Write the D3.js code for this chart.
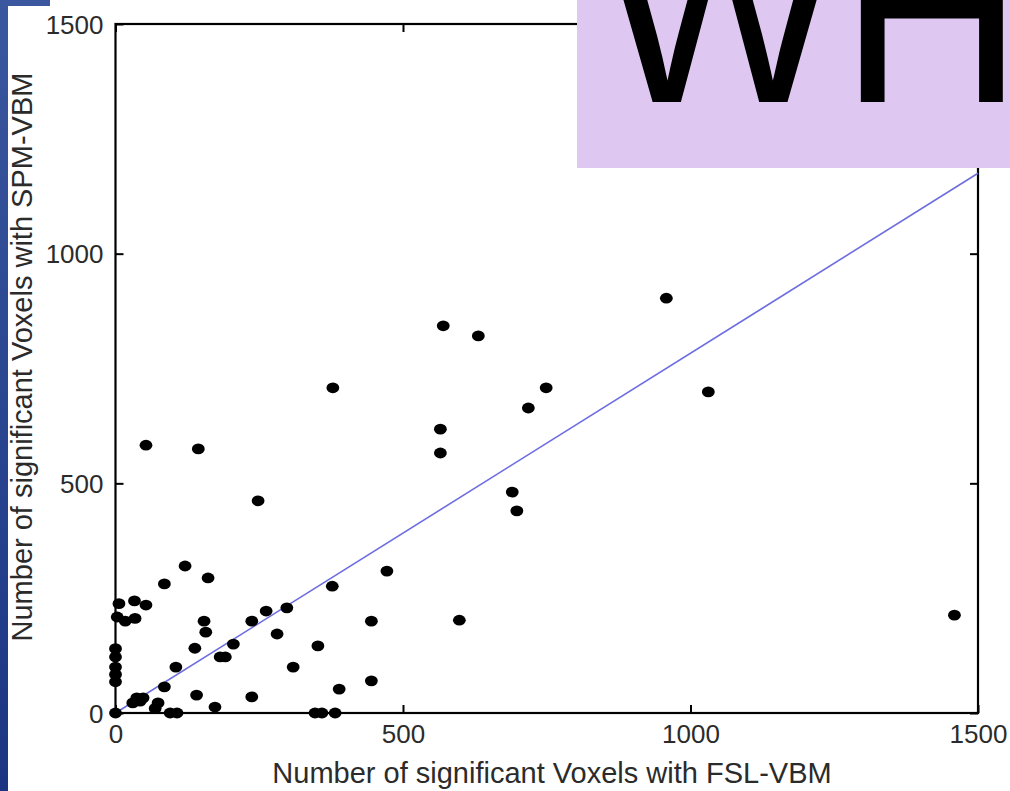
<!DOCTYPE html>
<html>
<head>
<meta charset="utf-8">
<script src="https://cdn.jsdelivr.net/npm/d3@7/dist/d3.min.js"></script>
<style>
  html, body { margin: 0; padding: 0; background: #fff; }
  svg { display: block; }
  text { font-family: "Liberation Sans", Arial, Helvetica, sans-serif; }
</style>
</head>
<body>
<svg id="chart" width="1010" height="791"></svg>
<script>
// ---- data ----
const fslVoxels = [958, 1031, 570, 631, 378, 749, 718, 565, 565, 690, 698, 53, 144, 248, 1459, 472, 377, 598, 445, 445, 389, 352, 309, 347, 359, 382,
  121, 161, 85, 33, 53, 6, 3, 17, 34, 154, 157, 237, 262, 298, 281, 138, 205, 182, 191, 105, 85, 141, 237, 173, 74, 69, 95, 107,
  30, 37, 48, 43, 0, 0, 0, 0, 0, 0];
const spmVoxels = [903, 699, 843, 821, 708, 708, 664, 618, 566, 481, 440, 583, 575, 462, 213, 309, 276, 202, 200, 70, 52, 146, 100, 0, 0, 0,
  320, 294, 281, 244, 235, 238, 209, 200, 206, 200, 176, 200, 222, 229, 172, 141, 150, 122, 122, 100, 57, 39, 35, 13, 22, 10, 0, 0,
  22, 33, 33, 26, 140, 122, 100, 84, 68, 0];
const fitX = [0, 1500];
const fitY = [0, 1175];
const xTicks = [0, 500, 1000, 1500];
const yTicks = [0, 500, 1000, 1500];
const xTitle = "Number of significant Voxels with FSL-VBM";
const yTitle = "Number of significant Voxels with SPM-VBM";
const bannerLetters = ["W", "H"];

// ---- layout ----
const svg = d3.select("#chart");
const L = 115.5, R = 978, T = 24, B = 713;
const x = d3.scaleLinear().domain([0, 1500]).range([L, R]);
const y = d3.scaleLinear().domain([0, 1500]).range([B, T]);

svg.append("rect").attr("width", 1010).attr("height", 791).attr("fill", "#fff");

// left blue strip
const defs = svg.append("defs");
const grad = defs.append("linearGradient").attr("id", "blueStrip").attr("x1", 0).attr("y1", 0).attr("x2", 0).attr("y2", 1);
grad.append("stop").attr("offset", "0%").attr("stop-color", "#3a579f");
grad.append("stop").attr("offset", "100%").attr("stop-color", "#1b3583");
svg.append("rect").attr("x", 0).attr("y", 0).attr("width", 8).attr("height", 791).attr("fill", "url(#blueStrip)");
svg.append("rect").attr("x", 0).attr("y", 0).attr("width", 50).attr("height", 6).attr("fill", "#3a579f");

// frame
svg.append("rect").attr("x", L).attr("y", T).attr("width", R - L).attr("height", B - T)
  .attr("fill", "none").attr("stroke", "#000").attr("stroke-width", 2.2);

// axes (inward ticks, all four sides)
const tickLen = 8;
const fmt = d3.format("d");
const axB = svg.append("g").attr("transform", `translate(0,${B})`)
  .call(d3.axisBottom(x).tickValues(xTicks).tickSizeInner(-tickLen).tickSizeOuter(0).tickFormat(fmt));
const axL = svg.append("g").attr("transform", `translate(${L},0)`)
  .call(d3.axisLeft(y).tickValues(yTicks).tickSizeInner(-tickLen).tickSizeOuter(0).tickFormat(fmt));
const axT = svg.append("g").attr("transform", `translate(0,${T})`)
  .call(d3.axisTop(x).tickValues(xTicks).tickSizeInner(-tickLen).tickSizeOuter(0).tickFormat(""));
const axR = svg.append("g").attr("transform", `translate(${R},0)`)
  .call(d3.axisRight(y).tickValues(yTicks).tickSizeInner(-tickLen).tickSizeOuter(0).tickFormat(""));
[axB, axL, axT, axR].forEach(a => {
  a.select(".domain").remove();
  a.selectAll(".tick line").attr("stroke", "#000").attr("stroke-width", 2);
  a.selectAll(".tick text").attr("fill", "#2b2b2b").style("font-size", "26px")
    .style("font-family", "'Liberation Sans', Arial, sans-serif");
});
axB.selectAll(".tick text").attr("dy", null).attr("y", 30);
axL.selectAll(".tick text").attr("dy", "0.35em").attr("x", -12);

// regression line
svg.append("line")
  .attr("x1", x(fitX[0])).attr("y1", y(fitY[0]))
  .attr("x2", x(fitX[1])).attr("y2", y(fitY[1]))
  .attr("stroke", "#6d6de0").attr("stroke-width", 1.6);

// points
svg.append("g").selectAll("ellipse").data(fslVoxels.map((v, i) => [v, spmVoxels[i]]))
  .join("ellipse")
  .attr("cx", d => x(d[0])).attr("cy", d => y(d[1]))
  .attr("rx", 6.4).attr("ry", 5.4).attr("fill", "#000");

// axis titles
svg.append("text").attr("x", 552).attr("y", 783).attr("text-anchor", "middle")
  .attr("fill", "#2b2b2b").style("font-size", "29px").text(xTitle);
svg.append("text").attr("transform", "translate(32,357) rotate(-90)").attr("text-anchor", "middle")
  .attr("fill", "#2b2b2b").style("font-size", "29px").text(yTitle);

// lavender banner with clipped big letters
svg.append("rect").attr("x", 577).attr("y", 0).attr("width", 433).attr("height", 168).attr("fill", "#dec7f1");
svg.append("text").attr("transform", "translate(600,102) scale(0.97,1)")
  .attr("fill", "#000").style("font-size", "262px").text(bannerLetters[0]);
svg.append("text").attr("transform", "translate(840,102) scale(0.97,1)")
  .attr("fill", "#000").style("font-size", "262px").text(bannerLetters[1]);
</script>
</body>
</html>
